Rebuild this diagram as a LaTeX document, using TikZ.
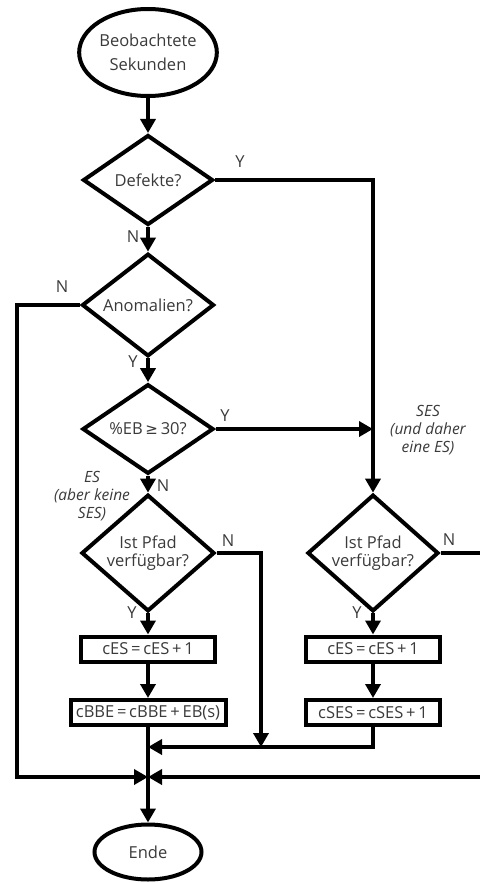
\documentclass[tikz,border=0pt]{standalone}
\usepackage{fontspec}
\setmainfont{Open Sans}
\newfontfamily\symfont{DejaVu Sans}
\usetikzlibrary{shapes.geometric,arrows.meta}
\definecolor{txt}{HTML}{3A3A3A}
\begin{document}
\begin{tikzpicture}[x=1pt,y=-1pt,
  line width=4pt,
  every node/.style={text=txt,font=\fontsize{16.5}{20}\selectfont},
  arr/.style={-{Triangle[length=14pt,width=15pt]}},
  term/.style={draw,ellipse,inner sep=0pt,align=center},
  dec/.style={draw,diamond,inner sep=0pt,align=center},
  proc/.style={draw,rectangle,inner sep=0pt,minimum height=25pt},
  lbl/.style={inner sep=0pt},
  note/.style={inner sep=0pt,align=center,font=\itshape\fontsize{15.5}{18}\selectfont}]
\useasboundingbox (0,0) rectangle (479,883);

\node[term,minimum width=136pt,minimum height=87pt,font=\fontsize{16.5}{24}\selectfont] (start) at (148,52.5) {Beobachtete\\Sekunden};
\node[dec,minimum width=130pt,minimum height=90pt] (def) at (148,180) {Defekte?};
\node[dec,minimum width=132pt,minimum height=86pt] (ano) at (148,305) {Anomalien?};
\node[dec,minimum width=131pt,minimum height=84pt] (eb) at (148,429) {\%EB\,{\symfont\fontsize{15}{18}\selectfont ≥}\,30?};
\node[dec,minimum width=133pt,minimum height=86pt,font=\fontsize{16.5}{18}\selectfont] (p1) at (148,553) {Ist Pfad\\verfügbar?};
\node[dec,minimum width=131pt,minimum height=85pt,font=\fontsize{16.5}{18}\selectfont] (p2) at (373,553) {Ist Pfad\\verfügbar?};
\node[proc,minimum width=134pt] (c1) at (148,649) {cES\,=\,cES\,+\,1};
\node[proc,minimum width=155pt] (cb) at (148,712.5) {cBBE\,=\,cBBE\,+\,EB(s)};
\node[proc,minimum width=134pt] (c2) at (373,649) {cES\,=\,cES\,+\,1};
\node[proc,minimum width=134pt] (cs) at (373,712.5) {cSES\,=\,cSES\,+\,1};
\node[term,minimum width=107pt,minimum height=55pt] (ende) at (148,852) {Ende};

\coordinate (jA) at (148,747);
\coordinate (jB) at (148,777);
\coordinate (topR) at (373,180);
\coordinate (ebR) at (373,429);
\coordinate (anoL) at (17,305);
\coordinate (botL) at (17,777);
\coordinate (p1R) at (261,553);
\coordinate (p1D) at (261,747);
\coordinate (p2R) at (490,553);
\coordinate (p2D) at (490,777);
\coordinate (csD) at (373,747);

\draw[arr] (start) -- (def);
\draw[arr] (def.east) -- (topR) -- (p2.north);
\draw[arr] (def) -- (ano);
\draw[arr] (ano.west) -- (anoL) -- (botL) -- (jB);
\draw[arr] (ano) -- (eb);
\draw[arr] (eb.east) -- (ebR);
\draw[arr] (eb) -- (p1);
\draw[arr] (p1.east) -- (p1R) -- (p1D);
\draw[arr] (p1) -- (c1);
\draw[arr] (c1) -- (cb);
\draw[arr] (cb) -- (ende);
\draw[arr] (p2.east) -- (p2R) -- (p2D) -- (jB);
\draw[arr] (p2) -- (c2);
\draw[arr] (c2) -- (cs);
\draw[arr] (cs.south) -- (csD) -- (jA);

\node[lbl] (y1) at (240,162) {Y};
\node[lbl] (n1) at (133,237) {N};
\node[lbl] (n2) at (62,287) {N};
\node[lbl] (y2) at (133,362) {Y};
\node[lbl] (y3) at (225,416) {Y};
\node[lbl] (n3) at (163,486) {N};
\node[lbl] (n4) at (228,541) {N};
\node[lbl] (y4) at (132,613) {Y};
\node[lbl] (n5) at (449,540) {N};
\node[lbl] (y5) at (357,613) {Y};
\node[note] (ses) at (428,430) {SES\\(und daher\\eine ES)};
\node[note] (es) at (92,496) {ES\\(aber keine\\SES)};
\end{tikzpicture}
\end{document}
